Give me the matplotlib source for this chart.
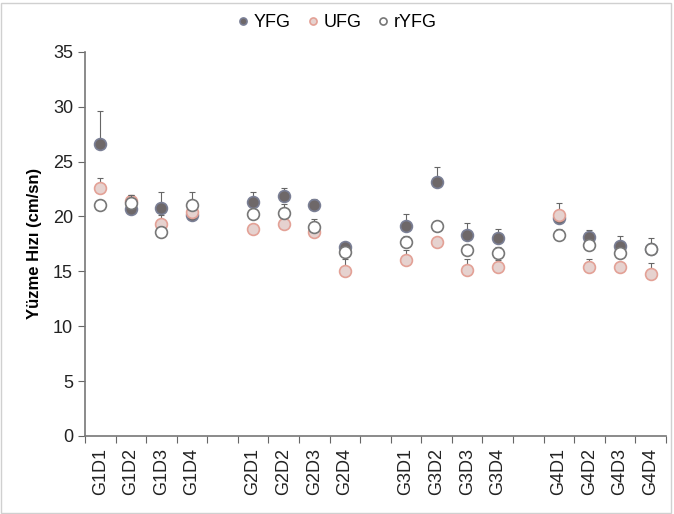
import numpy as np
import matplotlib.pyplot as plt
from matplotlib.patches import Rectangle

plt.rcParams['font.family'] = ['Liberation Sans', 'DejaVu Sans']

labels = ["G1D1", "G1D2", "G1D3", "G1D4",
          "G2D1", "G2D2", "G2D3", "G2D4",
          "G3D1", "G3D2", "G3D3", "G3D4",
          "G4D1", "G4D2", "G4D3", "G4D4"]

yfg = [26.6, 20.7, 20.8, 20.1, 21.3, 21.9, 21.0, 17.2,
       19.1, 23.1, 18.3, 18.0, 19.9, 18.1, 17.3, 17.0]
yfg_err = [3.0, 1.3, 1.4, 0.3, 0.9, 0.7, 0.6, 0.5,
           1.1, 1.4, 1.1, 0.9, 1.3, 0.7, 0.9, 0.5]

ufg = [22.6, 21.4, 19.3, 20.4, 18.9, 19.3, 18.6, 15.0,
       16.0, 17.7, 15.1, 15.4, 20.1, 15.4, 15.4, 14.8]
ufg_err = [0.9, 0.6, 0.8, 0.3, 0.3, 0.3, 0.3, 1.1,
           0.9, 0.3, 1.0, 0.6, 0.4, 0.7, 0.4, 1.0]

ryfg = [21.0, 21.2, 18.6, 21.0, 20.2, 20.3, 19.0, 16.8,
        17.7, 19.1, 16.9, 16.7, 18.3, 17.4, 16.7, 17.0]
ryfg_err = [0.5, 0.8, 0.4, 1.2, 0.5, 0.8, 0.8, 0.4,
            0.5, 0.5, 0.5, 0.5, 0.6, 0.4, 0.5, 1.0]

# x positions: 4 groups of 4 days, one empty slot between groups
x = np.array([g * 5 + d + 0.5 for g in range(4) for d in range(4)])

fig = plt.figure(figsize=(6.74, 5.14), dpi=100)
ax = fig.add_axes([0.126, 0.152, 0.862, 0.747])

series = [
    ("YFG", yfg, yfg_err, "#6e6869", "#7a7f95"),
    ("UFG", ufg, ufg_err, "#e6d2cf", "#e3a196"),
    ("rYFG", ryfg, ryfg_err, "white", "#777777"),
]
for name, vals, err, fc, ec in series:
    vals = np.array(vals)
    err = np.array(err)
    ax.errorbar(x, vals, yerr=[np.zeros_like(err), err], fmt="none",
                ecolor="#666666", elinewidth=0.8, capsize=2, capthick=0.8)
    ax.plot(x, vals, "o", ms=8.5, mfc=fc, mec=ec, mew=1.2, label=name,
            linestyle="none")

ax.set_ylim(0, 35)
ax.set_xlim(0, 19)
ax.set_yticks(range(0, 36, 5))
ax.set_xticks(np.arange(0, 20), minor=False)
ax.set_xticklabels([])
ax.set_xticks(x, minor=True)
ax.set_xticklabels(labels, minor=True, rotation=90, fontsize=13, color="#222222")
ax.tick_params(axis="x", which="minor", length=0, pad=9)
ax.tick_params(axis="x", which="major", length=5, color="#666666", direction="out")
ax.tick_params(axis="y", length=5, color="#666666", labelsize=13, labelcolor="#222222")

for s in ["top", "right"]:
    ax.spines[s].set_visible(False)
for s in ["left", "bottom"]:
    ax.spines[s].set_color("#777777")
    ax.spines[s].set_linewidth(1.2)

ax.set_ylabel("Yüzme Hızı (cm/sn)", fontsize=12, fontweight="bold", labelpad=8)

ax.legend(loc="upper center", bbox_to_anchor=(0.43, 1.14), ncol=3, frameon=False,
          fontsize=13, handletextpad=0.0, columnspacing=0.6, markerscale=0.6,
          handlelength=1.2)

fig.patches.append(Rectangle((0.002, 0.002), 0.994, 0.992, transform=fig.transFigure,
                             fill=False, edgecolor="#d0d0d0", linewidth=1))

fig.savefig("out.png", dpi=100)
